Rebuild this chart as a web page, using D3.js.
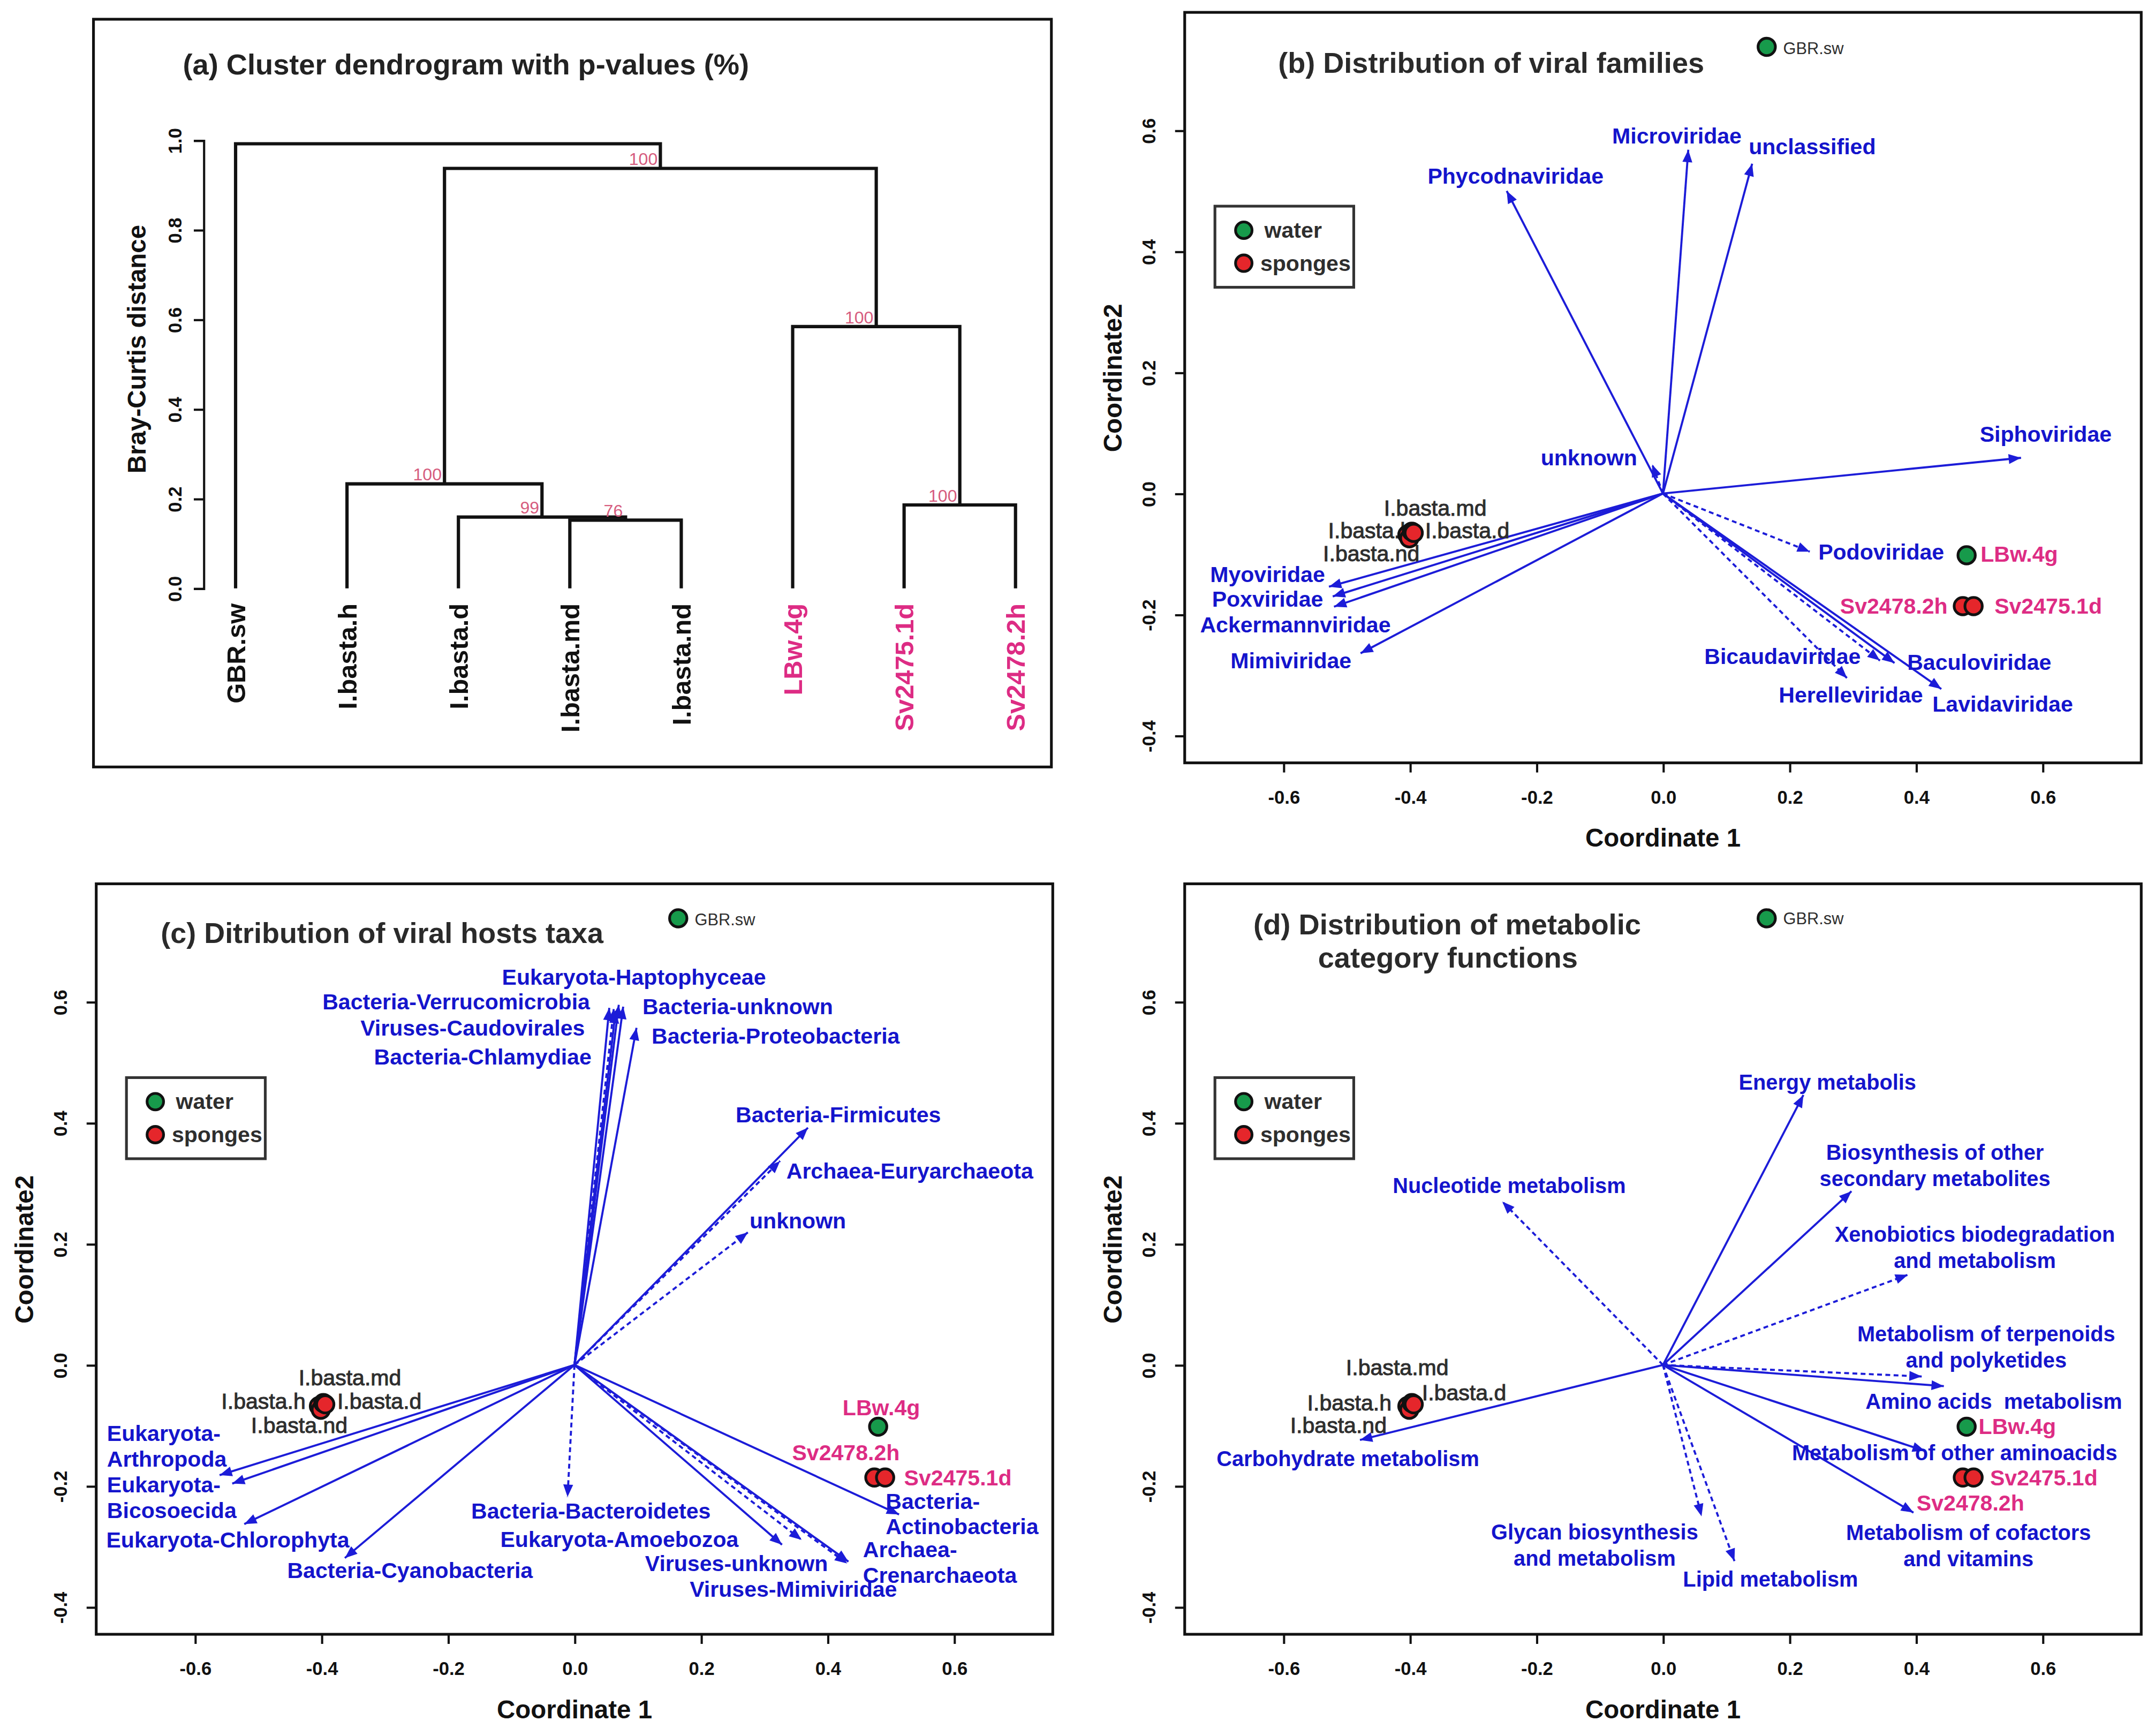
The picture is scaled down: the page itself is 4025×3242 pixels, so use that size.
<!DOCTYPE html>
<html lang="en">
<head>
<meta charset="UTF-8">
<title>Viromes: cluster dendrogram and ordination biplots</title>
<script src="https://d3js.org/d3.v7.min.js"></script>
<style>
  body { margin: 0; background: #fff; }
  text { font-family: "Liberation Sans", Arial, sans-serif; }
  .pre { white-space: pre; }
</style>
</head>
<body>
<svg id="fig" width="4025" height="3242" viewBox="0 0 1568 1263"></svg>
<script>
// ---------------- data: (a) dendrogram ----------------
const leafNames = ["GBR.sw", "I.basta.h", "I.basta.d", "I.basta.md", "I.basta.nd", "LBw.4g", "Sv2475.1d", "Sv2478.2h"];
const leafHighlight = [false, false, false, false, false, true, true, true];
// hclust-style merge table: negative = leaf (1-based), positive = earlier merge
const mergeA = [-4, -3, -2, -7, -6, 3, -1];
const mergeB = [-5, 1, 2, -8, 4, 5, 6];
const mergeHeight = [0.152, 0.159, 0.233, 0.186, 0.584, 0.937, 0.992];
const mergeAU = [76, 99, 100, 100, 100, 100, null];
const distTicks = [0, 0.2, 0.4, 0.6, 0.8, 1.0];

// ---------------- data: samples (same ordination in b, c, d) ----------------
const sampleNames = ["GBR.sw", "I.basta.h", "I.basta.nd", "I.basta.md", "I.basta.d", "LBw.4g", "Sv2478.2h", "Sv2475.1d"];
const sampleHabitat = ["water", "sponges", "sponges", "sponges", "sponges", "water", "sponges", "sponges"];
const sampleX = [0.164, -0.404, -0.401, -0.397, -0.394, 0.480, 0.474, 0.491];
const sampleY = [0.738, -0.068, -0.074, -0.063, -0.065, -0.102, -0.186, -0.186];
const sampleHighlight = [false, false, false, false, false, true, true, true];

const coordTicksX = [-0.6, -0.4, -0.2, 0, 0.2, 0.4, 0.6];
const coordTicksY = [-0.4, -0.2, 0, 0.2, 0.4, 0.6];

// ---------------- data: (b) viral families ----------------
const famNames = ["Phycodnaviridae", "Microviridae", "unclassified", "unknown", "Siphoviridae", "Podoviridae",
  "Bicaudaviridae", "Herelleviridae", "Baculoviridae", "Lavidaviridae", "Myoviridae", "Poxviridae",
  "Ackermannviridae", "Mimiviridae"];
const famX = [-0.247, 0.040, 0.141, -0.017, 0.566, 0.232, 0.343, 0.291, 0.366, 0.440, -0.528, -0.522, -0.520, -0.478];
const famY = [0.500, 0.568, 0.545, 0.048, 0.059, -0.096, -0.276, -0.305, -0.280, -0.323, -0.154, -0.170, -0.187, -0.264];
const famSignif = [true, true, true, false, true, false, false, false, true, true, true, true, true, true];

// ---------------- data: (c) viral host taxa ----------------
const hostNames = ["Eukaryota-Haptophyceae", "Bacteria-Verrucomicrobia", "Viruses-Caudovirales", "Bacteria-Chlamydiae",
  "Bacteria-unknown", "Bacteria-Proteobacteria", "Bacteria-Firmicutes", "Archaea-Euryarchaeota", "unknown",
  "Bacteria-Bacteroidetes", "Eukaryota-Amoebozoa", "Viruses-unknown", "Viruses-Mimiviridae",
  "Archaea-\nCrenarchaeota", "Bacteria-\nActinobacteria", "Eukaryota-\nArthropoda", "Eukaryota-\nBicosoecida",
  "Eukaryota-Chlorophyta", "Bacteria-Cyanobacteria"];
const hostX = [0.070, 0.055, 0.062, 0.065, 0.077, 0.098, 0.369, 0.325, 0.274, -0.011, 0.328, 0.359, 0.431, 0.433, 0.513, -0.561, -0.541, -0.522, -0.363];
const hostY = [0.595, 0.590, 0.588, 0.585, 0.592, 0.557, 0.392, 0.337, 0.219, -0.218, -0.297, -0.289, -0.328, -0.325, -0.247, -0.182, -0.196, -0.263, -0.319];
const hostSignif = [true, true, false, true, true, true, true, false, false, false, true, false, false, true, true, true, true, true, true];

// ---------------- data: (d) metabolic categories ----------------
const metNames = ["Energy metabolis", "Biosynthesis of other\nsecondary metabolites", "Xenobiotics biodegradation\nand metabolism",
  "Metabolism of terpenoids\nand polyketides", "Amino acids  metabolism", "Metabolism of other aminoacids",
  "Metabolism of cofactors\nand vitamins", "Lipid metabolism", "Glycan biosynthesis\nand metabolism",
  "Nucleotide metabolism", "Carbohydrate metabolism"];
const metX = [0.222, 0.298, 0.387, 0.409, 0.444, 0.414, 0.396, 0.113, 0.061, -0.254, -0.479];
const metY = [0.446, 0.287, 0.149, -0.019, -0.035, -0.142, -0.244, -0.324, -0.250, 0.270, -0.124];
const metSignif = [true, true, false, false, true, true, true, false, false, false, true];

// ---------------- label layout (data units) ----------------
const famLabelAt = [[-0.233, 0.525], [0.022, 0.591], [0.236, 0.573], [-0.117, 0.059], [0.605, 0.098], [0.345, -0.096],
  [0.189, -0.269], [0.297, -0.333], [0.500, -0.279], [0.537, -0.348], [-0.625, -0.134], [-0.625, -0.174],
  [-0.581, -0.217], [-0.588, -0.276]];
const hostLabelAt = [[0.094, 0.641, "middle"], [-0.187, 0.600, "middle"], [-0.161, 0.557, "middle"], [-0.145, 0.509, "middle"],
  [0.258, 0.592, "middle"], [0.318, 0.544, "middle"], [0.417, 0.414, "middle"], [0.530, 0.321, "middle"],
  [0.353, 0.238, "middle"], [0.026, -0.241, "middle"], [0.071, -0.288, "middle"], [0.256, -0.328, "middle"],
  [0.346, -0.370, "middle"], [0.456, -0.305, "start"], [0.492, -0.225, "start"], [-0.739, -0.113, "start"],
  [-0.739, -0.198, "start"], [-0.548, -0.289, "middle"], [-0.260, -0.339, "middle"]];
const metLabelAt = [[0.260, 0.467], [0.430, 0.351], [0.493, 0.216], [0.511, 0.051], [0.523, -0.060], [0.461, -0.145],
  [0.483, -0.277], [0.170, -0.354], [-0.108, -0.276], [-0.243, 0.296], [-0.498, -0.155]];

const sampleLabelB = {"GBR.sw": [0.19, 0.736, "start"], "I.basta.h": [-0.396, -0.061, "end"], "I.basta.d": [-0.376, -0.061, "start"],
  "I.basta.md": [-0.360, -0.024, "middle"], "I.basta.nd": [-0.461, -0.099, "middle"], "LBw.4g": [0.502, -0.100, "start"],
  "Sv2478.2h": [0.450, -0.186, "end"], "Sv2475.1d": [0.524, -0.186, "start"]};
const sampleLabelC = {"GBR.sw": [0.19, 0.736, "start"], "I.basta.h": [-0.425, -0.060, "end"], "I.basta.d": [-0.375, -0.060, "start"],
  "I.basta.md": [-0.355, -0.021, "middle"], "I.basta.nd": [-0.435, -0.100, "middle"], "LBw.4g": [0.485, -0.070, "middle"],
  "Sv2478.2h": [0.429, -0.145, "middle"], "Sv2475.1d": [0.521, -0.186, "start"]};
const sampleLabelD = {"GBR.sw": [0.19, 0.738, "start"], "I.basta.h": [-0.429, -0.062, "end"], "I.basta.d": [-0.381, -0.046, "start"],
  "I.basta.md": [-0.420, -0.004, "middle"], "I.basta.nd": [-0.513, -0.100, "middle"], "LBw.4g": [0.499, -0.101, "start"],
  "Sv2478.2h": [0.401, -0.228, "start"], "Sv2475.1d": [0.517, -0.186, "start"]};

// ---------------- colours ----------------
const BLUE = "#1414cc", LINE_BLUE = "#1c1cd8", PINK = "#dd2c84", GREY = "#2e2e2e", AU_COL = "#d65c7e";
const habitatFill = {water: "#179a4b", sponges: "#e5262b"};

const svg = d3.select("#fig");
svg.append("rect").attr("width", 1568).attr("height", 1263).attr("fill", "#fff");
const fmt = d => d.toFixed(1);

// ================= (a) dendrogram =================
(function () {
  const g = svg.append("g");
  g.append("rect").attr("x", 68).attr("y", 14).attr("width", 697).attr("height", 544)
    .attr("fill", "none").attr("stroke", "#111").attr("stroke-width", 2);

  g.append("text").attr("x", 133).attr("y", 54).attr("font-size", 21).attr("font-weight", "bold")
    .attr("fill", "#222").attr("textLength", 412).attr("lengthAdjust", "spacingAndGlyphs")
    .text("(a) Cluster dendrogram with p-values (%)");

  const x = d3.scalePoint().domain(leafNames).range([171.4, 738.9]);
  const y = d3.scaleLinear().domain([0, 1]).range([428, 102]);

  // y axis
  const ya = g.append("g").attr("transform", "translate(148,0)")
    .call(d3.axisLeft(y).tickValues(distTicks).tickFormat(fmt).tickSize(7));
  ya.select(".domain").attr("stroke", "#111").attr("stroke-width", 1.6);
  ya.selectAll(".tick line").attr("stroke", "#111").attr("stroke-width", 1.6);
  ya.selectAll(".tick text").attr("x", 0).attr("y", 0).attr("dy", 0)
    .attr("transform", "translate(-16,0) rotate(-90)").attr("text-anchor", "middle")
    .attr("font-size", 13.5).attr("font-weight", "bold").attr("fill", "#111")
    .style("font-family", "'Liberation Sans', Arial, sans-serif");

  g.append("text").attr("transform", "translate(106,254) rotate(-90)").attr("text-anchor", "middle")
    .attr("font-size", 18.5).attr("font-weight", "bold").attr("fill", "#111").text("Bray-Curtis distance");

  // merges
  const nodeX = [], nodeH = [];
  const childX = c => c < 0 ? x(leafNames[-c - 1]) : nodeX[c - 1];
  const childH = c => c < 0 ? 0 : nodeH[c - 1];
  mergeA.forEach((a, i) => {
    const b = mergeB[i];
    const xa = childX(a), xb = childX(b);
    const h = mergeHeight[i];
    nodeX.push((xa + xb) / 2);
    nodeH.push(h);
    g.append("path")
      .attr("d", `M${xa},${y(childH(a))}V${y(h)}H${xb}V${y(childH(b))}`)
      .attr("fill", "none").attr("stroke", "#111").attr("stroke-width", 2.4);
  });
  mergeAU.forEach((au, i) => {
    if (au === null) return;
    g.append("text").attr("x", nodeX[i] - 2).attr("y", y(nodeH[i]) - 2.5).attr("text-anchor", "end")
      .attr("font-size", 12.5).attr("fill", AU_COL).text(au);
  });

  // leaf labels
  leafNames.forEach((n, i) => {
    g.append("text").attr("transform", `translate(${x(n)},439) rotate(-90)`)
      .attr("text-anchor", "end").attr("dy", "0.36em")
      .attr("font-size", 19).attr("font-weight", "bold")
      .attr("fill", leafHighlight[i] ? PINK : "#111").text(n);
  });
})();

// ================= (b)(c)(d) biplots =================
const BOX_W = 696, BOX_H = 546;
const xDomain = [-0.756, 0.756], yDomain = [-0.445, 0.795];

function multiLine(sel, label, lineH) {
  label.split("\n").forEach((ln, k) => {
    sel.append("tspan").attr("x", sel.attr("x")).attr("dy", k === 0 ? "0.35em" : lineH).text(ln);
  });
}

function drawBiplot(p) {
  const g = svg.append("g");
  const x = d3.scaleLinear().domain(xDomain).range([p.left, p.left + BOX_W]);
  const y = d3.scaleLinear().domain(yDomain).range([p.top + BOX_H, p.top]);

  g.append("rect").attr("x", p.left).attr("y", p.top).attr("width", BOX_W).attr("height", BOX_H)
    .attr("fill", "none").attr("stroke", "#111").attr("stroke-width", 2);

  // x axis
  const xa = g.append("g").attr("transform", `translate(0,${p.top + BOX_H})`)
    .call(d3.axisBottom(x).tickValues(coordTicksX).tickFormat(fmt).tickSize(7).tickPadding(13));
  xa.select(".domain").remove();
  xa.selectAll(".tick line").attr("stroke", "#111").attr("stroke-width", 1.6);
  xa.selectAll(".tick text").attr("font-size", 13.5).attr("font-weight", "bold").attr("fill", "#111")
    .style("font-family", "'Liberation Sans', Arial, sans-serif");

  // y axis
  const ya = g.append("g").attr("transform", `translate(${p.left},0)`)
    .call(d3.axisLeft(y).tickValues(coordTicksY).tickFormat(fmt).tickSize(7));
  ya.select(".domain").remove();
  ya.selectAll(".tick line").attr("stroke", "#111").attr("stroke-width", 1.6);
  ya.selectAll(".tick text").attr("x", 0).attr("y", 0).attr("dy", 0)
    .attr("transform", "translate(-21.5,0) rotate(-90)").attr("text-anchor", "middle")
    .attr("font-size", 13.5).attr("font-weight", "bold").attr("fill", "#111")
    .style("font-family", "'Liberation Sans', Arial, sans-serif");

  g.append("text").attr("x", p.left + BOX_W / 2).attr("y", p.top + BOX_H + 61).attr("text-anchor", "middle")
    .attr("font-size", 18.5).attr("font-weight", "bold").attr("fill", "#111").text("Coordinate 1");
  g.append("text").attr("transform", `translate(${p.left - 46},${p.top + 266}) rotate(-90)`)
    .attr("text-anchor", "middle").attr("font-size", 18.5).attr("font-weight", "bold").attr("fill", "#111")
    .text("Coordinate2");

  // title
  p.title.forEach(t => {
    g.append("text").attr("x", t.x).attr("y", t.y).attr("font-size", 21).attr("font-weight", "bold")
      .attr("fill", "#2a2a2a").attr("textLength", t.w).attr("lengthAdjust", "spacingAndGlyphs").text(t.text);
  });

  // legend
  const lg = g.append("g").attr("transform", `translate(${p.left + 22},${p.top + 141})`);
  lg.append("rect").attr("width", 101).attr("height", 59).attr("fill", "#fff")
    .attr("stroke", "#333").attr("stroke-width", 2);
  ["water", "sponges"].forEach((h, k) => {
    lg.append("circle").attr("cx", 21).attr("cy", 17.5 + 24 * k).attr("r", 6).attr("fill", habitatFill[h])
      .attr("stroke", "#111").attr("stroke-width", 2);
    lg.append("text").attr("x", k === 0 ? 36 : 33).attr("y", 23 + 24 * k).attr("font-size", 16)
      .attr("font-weight", "bold").attr("fill", GREY).text(h);
  });

  // vectors
  const x0 = x(0), y0 = y(0);
  p.names.forEach((n, i) => {
    const tx = x(p.xs[i]), ty = y(p.ys[i]);
    g.append("line").attr("x1", x0).attr("y1", y0).attr("x2", tx).attr("y2", ty)
      .attr("stroke", LINE_BLUE).attr("stroke-width", 1.5)
      .attr("stroke-dasharray", p.signif[i] ? null : "3.5,2.5");
    const a = Math.atan2(ty - y0, tx - x0), L = 9, W = 3.6;
    const bx = tx - L * Math.cos(a), by = ty - L * Math.sin(a);
    const nx = -Math.sin(a) * W, ny = Math.cos(a) * W;
    g.append("polygon").attr("points", `${tx},${ty} ${bx + nx},${by + ny} ${bx - nx},${by - ny}`)
      .attr("fill", LINE_BLUE);
  });
  p.names.forEach((n, i) => {
    const at = p.labelAt[i];
    const t = g.append("text").attr("x", x(at[0])).attr("y", y(at[1]))
      .attr("text-anchor", at[2] || "middle").attr("font-size", p.fontSize).attr("font-weight", "bold")
      .attr("fill", BLUE).attr("class", "pre");
    multiLine(t, n, p.lineH);
  });

  // sample labels then points
  sampleNames.forEach((n, i) => {
    const at = p.sampleLabel[n];
    const small = n === "GBR.sw";
    const t = g.append("text").attr("x", x(at[0])).attr("y", y(at[1])).attr("dy", "0.35em")
      .attr("text-anchor", at[2]).attr("font-size", small ? 12 : (sampleHighlight[i] ? 16 : 16))
      .attr("font-weight", sampleHighlight[i] ? "bold" : "normal")
      .attr("fill", sampleHighlight[i] ? PINK : GREY).text(n);
    if (!sampleHighlight[i] && !small) t.attr("stroke", GREY).attr("stroke-width", 0.4);
  });
  sampleNames.forEach((n, i) => {
    g.append("circle").attr("cx", x(sampleX[i])).attr("cy", y(sampleY[i])).attr("r", 6.3)
      .attr("fill", habitatFill[sampleHabitat[i]]).attr("stroke", "#111").attr("stroke-width", 2);
  });
}

drawBiplot({
  left: 862, top: 9,
  title: [{text: "(b) Distribution of viral families", x: 930, y: 53, w: 310}],
  names: famNames, xs: famX, ys: famY, signif: famSignif, labelAt: famLabelAt,
  sampleLabel: sampleLabelB, fontSize: 16, lineH: 18.5
});
drawBiplot({
  left: 70, top: 643,
  title: [{text: "(c) Ditribution of viral hosts taxa", x: 117, y: 686, w: 322}],
  names: hostNames, xs: hostX, ys: hostY, signif: hostSignif, labelAt: hostLabelAt,
  sampleLabel: sampleLabelC, fontSize: 16, lineH: 18.5
});
drawBiplot({
  left: 862, top: 643,
  title: [{text: "(d) Distribution of metabolic", x: 912, y: 680, w: 282},
          {text: "category functions", x: 959, y: 704, w: 189}],
  names: metNames, xs: metX, ys: metY, signif: metSignif, labelAt: metLabelAt,
  sampleLabel: sampleLabelD, fontSize: 15.5, lineH: 19
});
</script>
</body>
</html>
